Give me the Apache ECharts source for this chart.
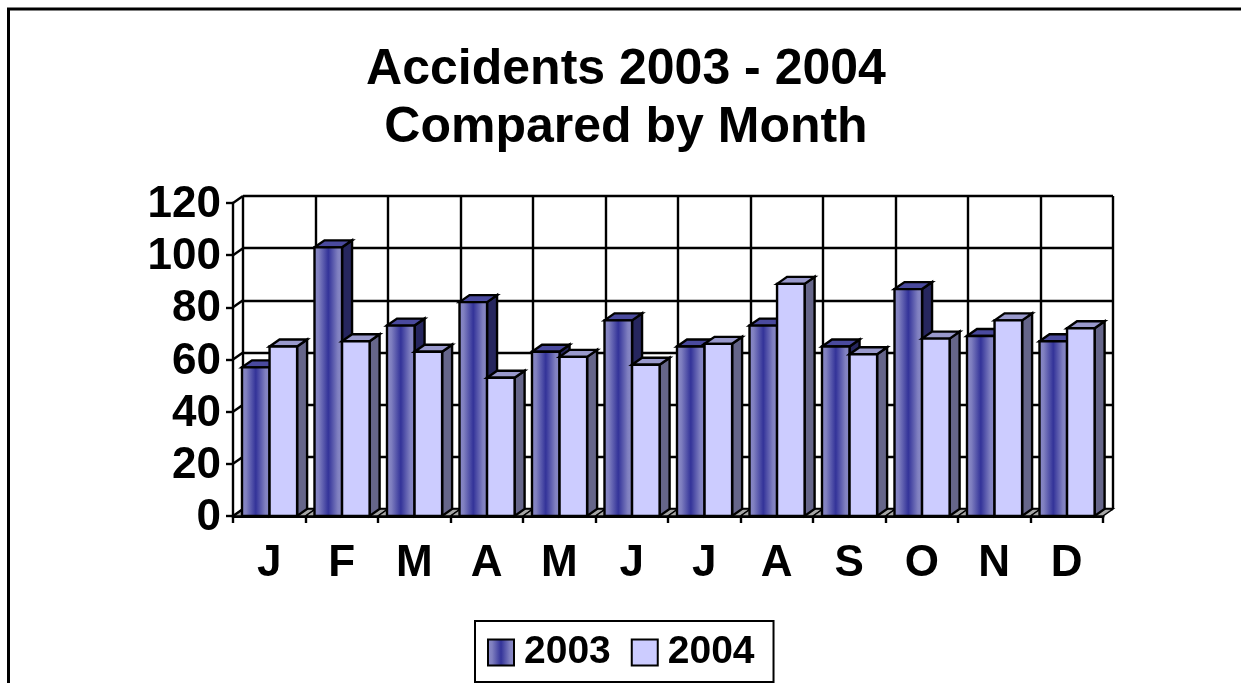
<!DOCTYPE html>
<html><head><meta charset="utf-8">
<style>html,body{margin:0;padding:0;background:#fff}#c{width:1241px;height:683px}</style>
<script src="https://cdn.jsdelivr.net/npm/echarts@6/dist/echarts.min.js"></script>
</head><body><div id="c"></div>
<script>
const months = ['J','F','M','A','M','J','J','A','S','O','N','D'];
const values2003 = [57,103,73,82,63,75,65,73,65,87,69,67];
const values2004 = [65,67,63,53,61,58,66,89,62,68,75,72];
const yTicks = [0,20,40,60,80,100,120];
const FONT = '"Liberation Sans", Arial, sans-serif';
const DX = 10, DY = -7;
const chart = echarts.init(document.getElementById('c'), null, {renderer:'canvas'});

const grad2003 = new echarts.graphic.LinearGradient(0,0,1,0,[
  {offset:0,color:'#8c8cc9'},{offset:0.18,color:'#8080c0'},{offset:0.5,color:'#333399'},{offset:0.82,color:'#8080c0'},{offset:1,color:'#8c8cc9'}]);

function barRenderer(seriesIdx, face, side, top){
  return function(params, api){
    const cat = api.value(0), v = api.value(1);
    const band = api.size([1,0])[0];
    const p = api.coord([cat, v]), b = api.coord([cat, 0]);
    const w = band * 0.38;
    const x0 = p[0] - w + seriesIdx * w + 0.3, x1 = x0 + w, yT = p[1], yB = b[1];
    const style = c => ({fill:c, stroke:'#000', lineWidth:2.4, lineJoin:'miter'});
    return {type:'group', children:[
      {type:'polygon', shape:{points:[[x1,yT],[x1+DX,yT+DY],[x1+DX,yB+DY],[x1,yB]]}, style:style(side)},
      {type:'polygon', shape:{points:[[x0,yT],[x0+DX,yT+DY],[x1+DX,yT+DY],[x1,yT]]}, style:style(top)},
      {type:'rect', shape:{x:x0,y:yT,width:w,height:yB-yT}, style:style(face)}
    ]};
  };
}
function wallRenderer(params, api){
  const p = api.coord([0, api.value(0)]);
  const band = api.size([1,0])[0];
  const x = p[0] - band/2;
  return {type:'line', shape:{x1:x,y1:p[1],x2:x+DX,y2:p[1]+DY}, style:{stroke:'#000',lineWidth:2.4}};
}
function floorRenderer(params, api){
  const band = api.size([1,0])[0];
  const p = api.coord([api.value(0), 0]);
  const x = p[0] - band/2, y = p[1];
  return {type:'polygon', shape:{points:[[x,y],[x+DX,y+DY],[x+band+DX,y+DY],[x+band,y]]},
    style:{fill:'#a6a6a6',stroke:'#000',lineWidth:1.5}};
}

chart.setOption({
  animation:false,
  backgroundColor:'#fff',
  graphic:[{type:'rect', z:-10, silent:true, shape:{x:8.5,y:9,width:1300,height:760}, style:{fill:'#fff',stroke:'#000',lineWidth:3}}],
  title:{text:'Accidents 2003 - 2004\nCompared by Month', left:621, top:36, textAlign:'center',
    textStyle:{fontFamily:FONT,fontWeight:'bold',fontSize:50,lineHeight:58,color:'#000'}},
  legend:{data:[{name:'2003',icon:'rect',itemStyle:{color:grad2003,borderColor:'#000',borderWidth:2}},
                {name:'2004',icon:'rect',itemStyle:{color:'#ccccff',borderColor:'#000',borderWidth:2}}],
    left:475, top:621, orient:'horizontal', itemWidth:26, itemHeight:26, itemGap:20,
    padding:[12,19,10,12], borderColor:'#000', borderWidth:2, backgroundColor:'#fff', selectedMode:false,
    textStyle:{fontFamily:FONT,fontWeight:'bold',fontSize:39,color:'#000',padding:[0,0,0,5]}},
  grid:[
    {left:233, top:203, width:870, height:313},
    {left:243, top:196, width:870, height:313}
  ],
  xAxis:[
    {type:'category',gridIndex:0,data:months,boundaryGap:true,
      axisLine:{lineStyle:{color:'#000',width:3}},
      axisTick:{show:true,length:7,lineStyle:{color:'#000',width:2.4}},
      axisLabel:{color:'#000',fontFamily:FONT,fontWeight:'bold',fontSize:44,margin:26,interval:0},splitLine:{show:false}},
    {type:'category',gridIndex:1,data:months,boundaryGap:true,
      axisLine:{show:false},axisTick:{show:false},axisLabel:{show:false},
      splitLine:{show:true,interval:0,lineStyle:{color:'#000',width:2.4}}}
  ],
  yAxis:[
    {type:'value',gridIndex:0,min:0,max:120,interval:20,
      axisLine:{show:true,lineStyle:{color:'#000',width:2.4}},
      axisTick:{show:true,length:7,lineStyle:{color:'#000',width:2.4}},
      axisLabel:{color:'#000',fontFamily:FONT,fontWeight:'bold',fontSize:44,margin:12,verticalAlign:'top',lineHeight:4},splitLine:{show:false}},
    {type:'value',gridIndex:1,min:0,max:120,interval:20,
      axisLine:{show:false},axisTick:{show:false},axisLabel:{show:false},
      splitLine:{show:true,lineStyle:{color:'#000',width:2.4}}}
  ],
  series:[
    {type:'custom',name:'floor',xAxisIndex:0,yAxisIndex:0,z:1,silent:true,data:months.map((m,i)=>[i]),encode:{x:0},renderItem:floorRenderer},
    {type:'custom',name:'wall',xAxisIndex:0,yAxisIndex:0,z:1,silent:true,data:yTicks.map(v=>[v]),encode:{y:0},renderItem:wallRenderer},
    {type:'custom',name:'2003',xAxisIndex:0,yAxisIndex:0,z:3,itemStyle:{color:grad2003},
      data:values2003.map((v,i)=>[i,v]),encode:{x:0,y:1},renderItem:barRenderer(0,grad2003,'#26265e','#4a4a9e')},
    {type:'custom',name:'2004',xAxisIndex:0,yAxisIndex:0,z:4,itemStyle:{color:'#ccccff'},
      data:values2004.map((v,i)=>[i,v]),encode:{x:0,y:1},renderItem:barRenderer(1,'#ccccff','#66668a','#9999cc')}
  ]
});
</script></body></html>
